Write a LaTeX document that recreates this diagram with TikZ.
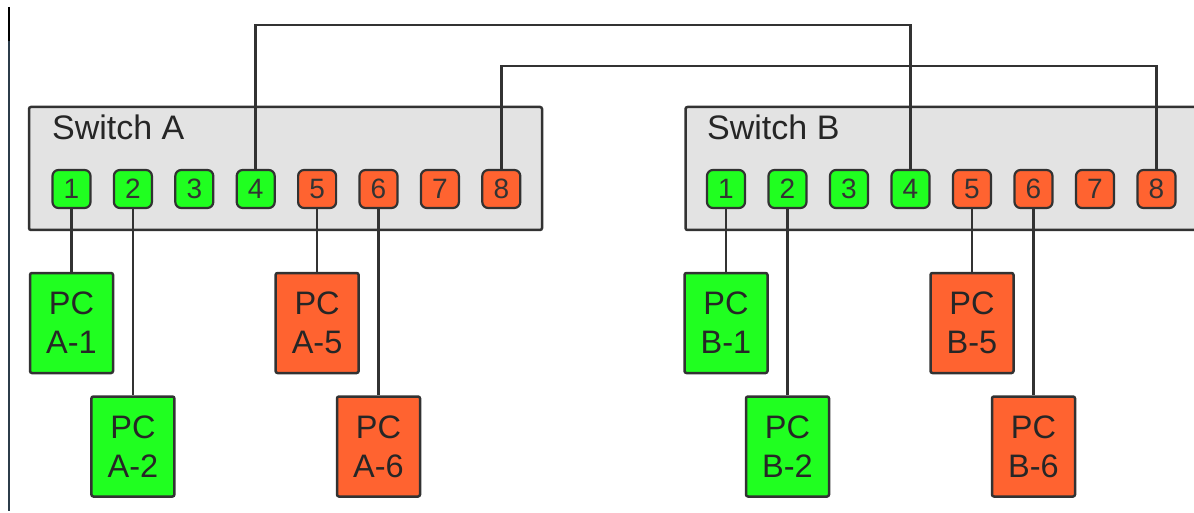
\documentclass[tikz,border=0pt]{standalone}
\usepackage{fontspec}
\setmainfont{Liberation Sans}
\definecolor{pgreen}{RGB}{32,255,32}
\definecolor{porange}{RGB}{255,99,48}
\definecolor{swgray}{RGB}{227,227,227}
\definecolor{edge}{RGB}{50,50,50}
\definecolor{slate}{RGB}{44,60,74}
\tikzset{
  swbox/.style={draw=edge, fill=swgray, line width=2.5pt, rounded corners=2pt, minimum width=513pt, minimum height=123pt, inner sep=0pt},
  swlabel/.style={anchor=base west, inner sep=0pt, font=\fontsize{34}{39}\selectfont, text=black!85},
  port/.style={draw=edge, line width=2.2pt, rounded corners=6pt, minimum width=38pt, minimum height=38pt, inner sep=0pt, font=\fontsize{28}{30}\selectfont, text=black!80},
  gport/.style={port, fill=pgreen},
  oport/.style={port, fill=porange},
  pc/.style={draw=edge, line width=2.5pt, rounded corners=2pt, minimum width=83pt, minimum height=100pt, inner sep=0pt, align=center, font=\fontsize{32.5}{39}\selectfont, text=black!85},
  gpc/.style={pc, fill=pgreen},
  opc/.style={pc, fill=porange},
  wire/.style={draw=edge, line width=2.6pt},
}
\begin{document}
\begin{tikzpicture}[x=1pt,y=-1pt]
\useasboundingbox (0,0) rectangle (1194,513);
\clip (0,0) rectangle (1194,513);
% left edge line
\draw[line width=2pt, slate] (9,40) -- (9,511);
\draw[line width=2pt, black] (9,7) -- (9,41);
% switches
\node[swbox] (swA) at (285.5,168.5) {};
\node[swbox] (swB) at (942,168.5) {};
\node[swlabel] (labA) at (52,140) {Switch A};
\node[swlabel] (labB) at (707,140) {Switch B};
% ports
\foreach \i/\s in {1/gport,2/gport,3/gport,4/gport,5/oport,6/oport,7/oport,8/oport}{
  \node[\s] (pA\i) at ({71.5+61.4*(\i-1)},189) {\i};
}
\foreach \i/\s in {1/gport,2/gport,3/gport,4/gport,5/oport,6/oport,7/oport,8/oport}{
  \node[\s] (pB\i) at ({726+61.5*(\i-1)},189) {\i};
}
% PCs
\node[gpc] (pcA1) at (pA1 |- 0,323) {PC\\A-1};
\node[gpc] (pcA2) at (pA2 |- 0,446.5) {PC\\A-2};
\node[opc] (pcA5) at (pA5 |- 0,323) {PC\\A-5};
\node[opc] (pcA6) at (pA6 |- 0,446.5) {PC\\A-6};
\node[gpc] (pcB1) at (pB1 |- 0,323) {PC\\B-1};
\node[gpc] (pcB2) at (pB2 |- 0,446.5) {PC\\B-2};
\node[opc] (pcB5) at (pB5 |- 0,323) {PC\\B-5};
\node[opc] (pcB6) at (pB6 |- 0,446.5) {PC\\B-6};
% wires to PCs
\foreach \p in {A1,A2,A5,A6,B1,B2,B5,B6}{
  \draw[wire] (p\p.south) -- (pc\p.north);
}
% trunk links
\coordinate (lvl1) at (0,25);
\coordinate (lvl2) at (0,66);
\draw[wire] (pA4.north) -- (pA4.north |- lvl1) -| (pB4.north);
\draw[wire] (pA8.north) -- (pA8.north |- lvl2) -| (pB8.north);
\end{tikzpicture}
\end{document}
